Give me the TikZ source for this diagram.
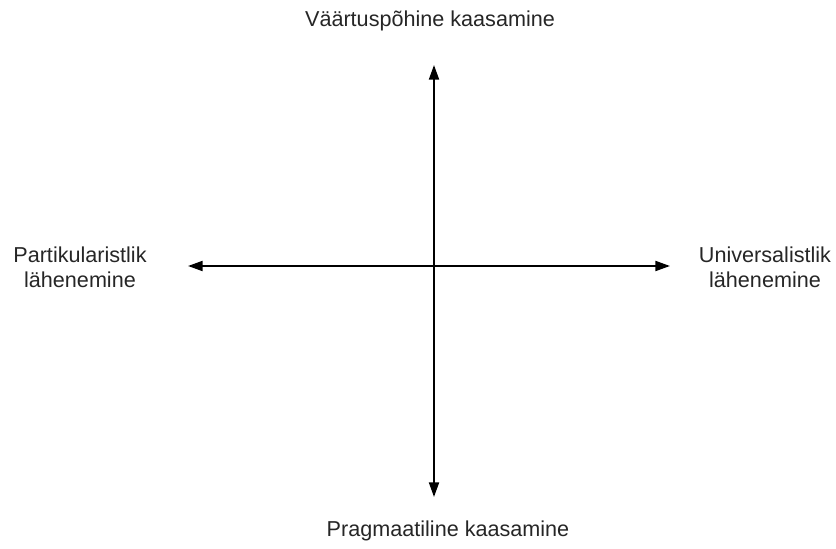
\documentclass[tikz,border=0pt]{standalone}
\usepackage{fontspec}
\setmainfont{Liberation Sans}
\usetikzlibrary{arrows.meta}
\begin{document}
\begin{tikzpicture}[x=0.75pt,y=-0.75pt,
  lbl/.style={inner sep=0pt, align=center, text=black!85, font=\fontsize{16.2}{19}\selectfont},
  axis/.style={line width=1.5pt, -{Triangle[length=11pt,width=7.5pt]}}]
\useasboundingbox (0,0) rectangle (836,549);
\coordinate (c) at (434,266);
\coordinate (top) at (434,65);
\coordinate (bot) at (434,497);
\coordinate (lft) at (188,266);
\coordinate (rgt) at (670,266);
\draw[axis] (c) -- (top);
\draw[axis] (c) -- (bot);
\draw[axis] (c) -- (lft);
\draw[axis] (c) -- (rgt);
\node[lbl] (tl) at (430,21) {Väärtuspõhine kaasamine};
\node[lbl] (bl) at (448,531) {Pragmaatiline kaasamine};
\node[lbl] (ll) at (80,267) {Partikularistlik\\lähenemine};
\node[lbl] (rl) at (765,267) {Universalistlik\\lähenemine};
\end{tikzpicture}
\end{document}
